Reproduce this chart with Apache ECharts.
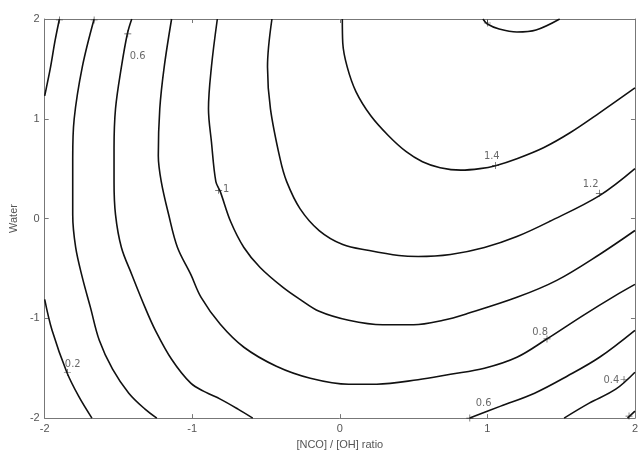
<!DOCTYPE html>
<html>
<head>
<meta charset="utf-8">
<script src="https://cdn.jsdelivr.net/npm/echarts@6/dist/echarts.min.js"></script>
<style>
html,body{margin:0;padding:0;background:#fff;}
#chart{width:641px;height:455px;}
</style>
</head>
<body>
<div id="chart"></div>
<script>
// Contour levels and their traced lines (data coordinates)
const levels = ['0.2','0.2','0.2','0.4','0.4','0.6','0.6','0.8','1','1.2','1.4','1.6'];
const c02a = [[-1.90,2.0],[-1.93,1.78],[-1.96,1.52],[-1.99,1.30],[-2.0,1.23]];
const c02b = [[-2.0,-0.81],[-1.95,-1.12],[-1.85,-1.54],[-1.77,-1.78],[-1.68,-2.0]];
const c02c = [[1.95,-2.0],[2.0,-1.93]];
const c04a = [[-1.665,2.0],[-1.745,1.52],[-1.80,1.0],[-1.81,0.6],[-1.81,0.04],[-1.79,-0.29],[-1.745,-0.59],[-1.69,-0.89],[-1.63,-1.22],[-1.54,-1.51],[-1.43,-1.75],[-1.32,-1.91],[-1.24,-2.0]];
const c04b = [[1.52,-2.0],[1.69,-1.85],[1.87,-1.71],[2.0,-1.54]];
const c06a = [[-1.41,2.0],[-1.44,1.85],[-1.48,1.52],[-1.52,1.10],[-1.53,0.70],[-1.53,0.37],[-1.52,0.04],[-1.48,-0.29],[-1.41,-0.56],[-1.32,-0.89],[-1.25,-1.12],[-1.14,-1.41],[-1.01,-1.65],[-0.91,-1.74],[-0.81,-1.81],[-0.69,-1.91],[-0.59,-2.0]];
const c06b = [[0.88,-2.0],[1.09,-1.88],[1.32,-1.75],[1.54,-1.58],[1.76,-1.39],[2.0,-1.12]];
const c08 = [[-1.14,2.0],[-1.19,1.52],[-1.22,1.10],[-1.23,0.63],[-1.21,0.37],[-1.16,0.04],[-1.10,-0.29],[-1.01,-0.56],[-0.94,-0.79],[-0.81,-1.06],[-0.65,-1.29],[-0.43,-1.48],[-0.20,-1.60],[0.06,-1.66],[0.25,-1.66],[0.53,-1.615],[0.75,-1.56],[0.98,-1.50],[1.20,-1.39],[1.40,-1.21],[1.65,-0.97],[1.87,-0.77],[2.0,-0.66]];
const c10 = [[-0.83,2.0],[-0.87,1.52],[-0.89,1.10],[-0.87,0.77],[-0.84,0.37],[-0.81,0.27],[-0.74,-0.03],[-0.65,-0.29],[-0.54,-0.49],[-0.385,-0.69],[-0.27,-0.81],[-0.14,-0.93],[0.06,-1.02],[0.29,-1.065],[0.50,-1.065],[0.70,-1.02],[0.87,-0.95],[1.20,-0.79],[1.47,-0.62],[1.76,-0.36],[2.0,-0.12]];
const c12 = [[-0.46,2.0],[-0.49,1.52],[-0.47,1.10],[-0.405,0.60],[-0.36,0.37],[-0.27,0.10],[-0.14,-0.12],[0.02,-0.26],[0.20,-0.32],[0.40,-0.37],[0.53,-0.38],[0.75,-0.36],[0.98,-0.29],[1.20,-0.18],[1.42,-0.03],[1.76,0.23],[2.0,0.50]];
const c14 = [[0.017,2.0],[0.02,1.76],[0.05,1.52],[0.11,1.27],[0.21,1.03],[0.33,0.83],[0.45,0.67],[0.56,0.57],[0.68,0.51],[0.82,0.485],[0.95,0.50],[1.055,0.53],[1.20,0.60],[1.38,0.71],[1.56,0.86],[1.76,1.06],[2.0,1.31]];
const c16 = [[0.97,2.0],[1.00,1.95],[1.08,1.90],[1.20,1.87],[1.33,1.89],[1.49,2.0]];

// contour label texts, label anchor positions and '+' marker positions
const labelTexts = ['0.6','1','1.4','1.2','0.8','0.6','0.4','0.2'];
const labelPos = [[-1.37,1.63],[-0.77,0.29],[1.03,0.63],[1.70,0.34],[1.357,-1.14],[0.975,-1.85],[1.84,-1.62],[-1.81,-1.46]];
const markerPos = [[-1.437,1.851],[-0.821,0.283],[1.055,0.531],[1.759,0.253],[1.404,-1.206],[0.881,-2.0],[1.926,-1.613],[-1.846,-1.543],[-1.90,1.99],[-1.665,1.99],[1.0,1.96],[1.96,-1.98]];

const xTicks = [-2,-1,0,1,2];
const yTicks = [-2,-1,0,1,2];

const contourData = [c02a,c02b,c02c,c04a,c04b,c06a,c06b,c08,c10,c12,c14,c16];

const chart = echarts.init(document.getElementById('chart'), null, {renderer:'canvas'});
const axisColor = '#777';
const labelColor = '#555';
const series = contourData.map((d,i)=>({
  type:'line', name:levels[i], data:d, showSymbol:false, symbol:'none',
  smooth:0.35, lineStyle:{color:'#111', width:1.6}, silent:true, animation:false, z:3
}));
series.push({
  type:'scatter', data:markerPos, symbol:'path://M4.5,0H5.5V4.5H10V5.5H5.5V10H4.5V5.5H0V4.5H4.5Z',
  symbolSize:7, itemStyle:{color:'#222'}, silent:true, animation:false, z:4
});
series.push({
  type:'scatter', data:labelPos.map((p,i)=>({value:p, name:labelTexts[i]})), symbolSize:0,
  label:{show:true, position:'inside', formatter:p=>p.name, color:'#444', fontSize:11,
    fontFamily:'"Liberation Sans Narrow","DejaVu Sans Condensed","Liberation Sans",sans-serif'},
  silent:true, animation:false, z:5
});

chart.setOption({
  animation:false,
  backgroundColor:'#fff',
  grid:{left:42, right:1, top:19, bottom:33, containLabel:false},
  xAxis:[{
    type:'value', min:-2, max:2, interval:1, position:'bottom',
    name:'[NCO] / [OH] ratio', nameLocation:'middle', nameGap:17,
    nameTextStyle:{color:labelColor, fontSize:11, fontFamily:'"Liberation Sans",Arial,sans-serif'},
    axisLine:{show:true, onZero:false, lineStyle:{color:axisColor, width:1}},
    axisTick:{show:true, inside:true, length:4, lineStyle:{color:axisColor}},
    axisLabel:{color:labelColor, fontSize:11, margin:5, fontFamily:'"Liberation Sans",Arial,sans-serif',
      formatter:v=>xTicks.includes(v)?String(v):''},
    splitLine:{show:false}
  },{
    type:'value', min:-2, max:2, interval:1, position:'top',
    axisLine:{show:true, onZero:false, lineStyle:{color:axisColor, width:1}},
    axisTick:{show:true, inside:true, length:4, lineStyle:{color:axisColor}},
    axisLabel:{show:false}, splitLine:{show:false}
  }],
  yAxis:[{
    type:'value', min:-2, max:2, interval:1, position:'left',
    name:'Water', nameLocation:'middle', nameGap:25, nameRotate:90,
    nameTextStyle:{color:labelColor, fontSize:11, fontFamily:'"Liberation Sans",Arial,sans-serif'},
    axisLine:{show:true, onZero:false, lineStyle:{color:axisColor, width:1}},
    axisTick:{show:true, inside:true, length:4, lineStyle:{color:axisColor}},
    axisLabel:{color:labelColor, fontSize:11, margin:5, fontFamily:'"Liberation Sans",Arial,sans-serif',
      formatter:v=>yTicks.includes(v)?String(v):''},
    splitLine:{show:false}
  },{
    type:'value', min:-2, max:2, interval:1, position:'right',
    axisLine:{show:true, onZero:false, lineStyle:{color:axisColor, width:1}},
    axisTick:{show:true, inside:true, length:4, lineStyle:{color:axisColor}},
    axisLabel:{show:false}, splitLine:{show:false}
  }],
  series:series
});
</script>
</body>
</html>
